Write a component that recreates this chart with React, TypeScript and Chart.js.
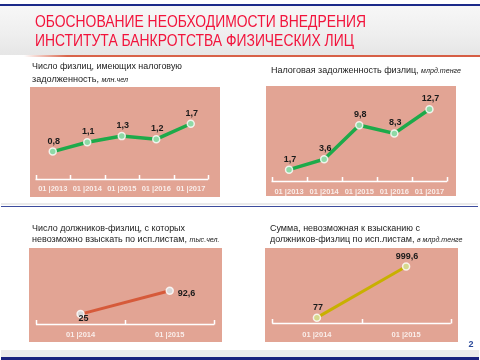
import React, { useEffect, useRef } from 'react';
import { Chart, registerables } from 'chart.js';

Chart.register(...registerables);

// ---------- data ----------
const years5 = ['01 |2013', '01 |2014', '01 |2015', '01 |2016', '01 |2017'];
const years2 = ['01 |2014', '01 |2015'];
const debtorsWithTaxDebt = [0.8, 1.1, 1.3, 1.2, 1.7]; // млн.чел
const taxDebtAmount = [1.7, 3.6, 9.8, 8.3, 12.7]; // млрд.тенге
const uncollectibleDebtors = [25, 92.6]; // тыс.чел.
const uncollectibleSum = [77, 999.6]; // млрд.тенге

const PANEL_BG = '#E2A494';
const FONT = '"Liberation Sans", Arial, sans-serif';
const EXTRA = 10; // canvas extends below the panel background

type LabelMode = 'above' | 'right';

const fmt = (v: number) => String(v).replace('.', ',');

const axisPlugin = {
  id: 'axisTicks',
  beforeDatasetsDraw(chart: any) {
    const s = chart.scales.x;
    const ctx = chart.ctx;
    const n = chart.data.labels.length;
    const y = Math.round(s.top) + 0.5;
    ctx.save();
    ctx.strokeStyle = '#FFFFFF';
    ctx.lineWidth = 1.5;
    ctx.beginPath();
    ctx.moveTo(s.left, y);
    ctx.lineTo(s.right, y);
    for (let i = 0; i <= n; i++) {
      const x = Math.round(s.left + ((s.right - s.left) * i) / n) + 0.5;
      ctx.moveTo(x, y);
      ctx.lineTo(x, y - 4.5);
    }
    ctx.stroke();
    ctx.restore();
  },
};

const valueLabelPlugin = {
  id: 'valueLabels',
  afterDatasetsDraw(chart: any, _args: any, opts: any) {
    const ctx = chart.ctx;
    const meta = chart.getDatasetMeta(0);
    const data = chart.data.datasets[0].data as number[];
    ctx.save();
    ctx.fillStyle = '#1A1A1A';
    ctx.font = `bold 9px ${FONT}`;
    meta.data.forEach((pt: any, i: number) => {
      const txt = fmt(data[i]);
      ctx.textBaseline = 'middle';
      if (opts.mode === 'right') {
        ctx.textAlign = 'left';
        if (i === 0) ctx.fillText(txt, pt.x - 2, pt.y + 4);
        else ctx.fillText(txt, pt.x + 8, pt.y + 2.5);
      } else {
        ctx.textAlign = 'center';
        ctx.fillText(txt, pt.x + 1, pt.y - 10.5);
      }
    });
    ctx.restore();
  },
};

interface LineProps {
  left: number;
  top: number;
  width: number;
  height: number;
  labels: string[];
  values: number[];
  color: string;
  pointFill: string;
  lineWidth: number;
  yMin: number;
  yMax: number;
  pad: { left: number; right: number; top: number; bottom: number };
  tickPad: number;
  mode: LabelMode;
}

function LineBox(p: LineProps) {
  const ref = useRef<HTMLCanvasElement>(null);
  useEffect(() => {
    if (!ref.current) return;
    const chart = new Chart(ref.current, {
      type: 'line',
      data: {
        labels: p.labels,
        datasets: [
          {
            data: p.values,
            borderColor: p.color,
            borderWidth: p.lineWidth,
            pointRadius: 3.5,
            pointBorderWidth: 1.5,
            pointBorderColor: 'rgba(255,255,255,0.8)',
            pointBackgroundColor: p.pointFill,
            tension: 0,
          },
        ],
      },
      options: {
        responsive: false,
        devicePixelRatio: 1,
        animation: false,
        layout: { padding: { ...p.pad, bottom: p.pad.bottom + EXTRA } },
        plugins: {
          legend: { display: false },
          tooltip: { enabled: false },
          valueLabels: { mode: p.mode },
        } as any,
        scales: {
          x: {
            offset: true,
            grid: { display: false, drawTicks: false },
            border: { display: false },
            ticks: {
              color: 'rgba(255,255,255,0.8)',
              font: { family: FONT, size: 7.5, weight: 'bold' },
              padding: p.tickPad,
              maxRotation: 0,
              autoSkip: false,
            },
          },
          y: { display: false, min: p.yMin, max: p.yMax },
        },
      },
      plugins: [axisPlugin, valueLabelPlugin],
    });
    return () => chart.destroy();
  }, []);
  return (
    <>
      <div
        style={{
          position: 'absolute',
          left: p.left,
          top: p.top,
          width: p.width,
          height: p.height,
          background: PANEL_BG,
        }}
      />
      <canvas
        ref={ref}
        width={p.width}
        height={p.height + EXTRA}
        style={{ position: 'absolute', left: p.left, top: p.top, display: 'block' }}
      />
    </>
  );
}

const unit = { fontStyle: 'italic', fontSize: 7.5 } as const;

function Texts() {
  return (
    <svg
      width={480}
      height={360}
      style={{ position: 'absolute', left: 0, top: 0, pointerEvents: 'none' }}
      fontFamily={FONT}
    >
      <g fill="#F2143C" fontSize={17}>
        <text x={35} y={26.8} textLength={331} lengthAdjust="spacingAndGlyphs">
          ОБОСНОВАНИЕ НЕОБХОДИМОСТИ ВНЕДРЕНИЯ
        </text>
        <text x={35} y={46.2} textLength={319} lengthAdjust="spacingAndGlyphs">
          ИНСТИТУТА БАНКРОТСТВА ФИЗИЧЕСКИХ ЛИЦ
        </text>
      </g>
      <g fill="#1A1A1A" fontSize={9.5}>
        <text x={32} y={68.5} textLength={150} lengthAdjust="spacingAndGlyphs">
          Число физлиц, имеющих налоговую
        </text>
        <text x={32} y={81.7} textLength={96} lengthAdjust="spacingAndGlyphs">
          задолженность, <tspan style={unit}>млн.чел</tspan>
        </text>
        <text x={271} y={73.3} textLength={190} lengthAdjust="spacingAndGlyphs">
          Налоговая задолженность физлиц, <tspan style={unit}>млрд.тенге</tspan>
        </text>
        <text x={32} y={230.7} textLength={153} lengthAdjust="spacingAndGlyphs">
          Число должников-физлиц, с которых
        </text>
        <text x={32} y={242.3} textLength={187.5} lengthAdjust="spacingAndGlyphs">
          невозможно взыскать по исп.листам, <tspan style={unit}>тыс.чел.</tspan>
        </text>
        <text x={270} y={230.7} textLength={150} lengthAdjust="spacingAndGlyphs">
          Сумма, невозможная к взысканию с
        </text>
        <text x={270} y={241.8} textLength={192.5} lengthAdjust="spacingAndGlyphs">
          должников-физлиц по исп.листам, <tspan style={unit}>в млрд.тенге</tspan>
        </text>
      </g>
      <text x={468.5} y={346.5} fill="#2B4A9A" fontSize={9} fontWeight="bold">
        2
      </text>
    </svg>
  );
}

export default function App() {
  useEffect(() => {
    document.body.style.margin = '0';
  }, []);
  return (
    <div
      style={{
        position: 'fixed',
        left: 0,
        top: 0,
        width: 480,
        height: 360,
        background: '#FFFFFF',
        overflow: 'hidden',
      }}
    >
      {/* header */}
      <div style={{ position: 'absolute', left: 0, top: 3.5, width: 480, height: 2, background: '#1B2A8A' }} />
      <div
        style={{
          position: 'absolute',
          left: 0,
          top: 5.5,
          width: 480,
          height: 49.5,
          background: 'linear-gradient(180deg, #F7F7F7 0%, #EEEEEE 60%, #E6E6E6 100%)',
        }}
      />
      <div
        style={{
          position: 'absolute',
          left: 0,
          top: 55,
          width: 480,
          height: 2.2,
          background: 'linear-gradient(90deg, rgba(217,96,72,0) 5%, #D9644A 14%, #D65E45 100%)',
        }}
      />

      {/* separators */}
      <div style={{ position: 'absolute', left: 1, top: 202.7, width: 477, height: 2.5, background: '#EAEAEA' }} />
      <div style={{ position: 'absolute', left: 1, top: 205.5, width: 477, height: 1.8, background: '#3D4C9E' }} />
      <div style={{ position: 'absolute', left: 1, top: 350, width: 478, height: 7, background: '#EBEBEB' }} />
      <div style={{ position: 'absolute', left: 1, top: 357, width: 478, height: 2.5, background: '#1A237E' }} />

      {/* charts */}
      <LineBox
        left={30}
        top={87}
        width={190}
        height={110}
        labels={years5}
        values={debtorsWithTaxDebt}
        color="#1DAA4A"
        pointFill="#8FD9A6"
        lineWidth={3.5}
        yMin={-0.07}
        yMax={2.5}
        pad={{ left: 2, right: 12, top: 12, bottom: -1.5 }}
        tickPad={5.5}
        mode="above"
      />
      <LineBox
        left={266}
        top={86}
        width={190}
        height={110}
        labels={years5}
        values={taxDebtAmount}
        color="#1DAA4A"
        pointFill="#8FD9A6"
        lineWidth={3.5}
        yMin={-0.28}
        yMax={15.12}
        pad={{ left: 4, right: 9, top: 10, bottom: -6.5 }}
        tickPad={6.5}
        mode="above"
      />
      <LineBox
        left={29}
        top={248}
        width={193}
        height={94}
        labels={years2}
        values={uncollectibleDebtors}
        color="#D65A3A"
        pointFill="#D9D9D9"
        lineWidth={3}
        yMin={-4.4}
        yMax={200}
        pad={{ left: 7, right: 7.7, top: 5, bottom: -3.3 }}
        tickPad={6}
        mode="right"
      />
      <LineBox
        left={265}
        top={248}
        width={193}
        height={94}
        labels={years2}
        values={uncollectibleSum}
        color="#C8B000"
        pointFill="#D6D88E"
        lineWidth={3}
        yMin={-25}
        yMax={1235}
        pad={{ left: 7.3, right: 7.3, top: 5, bottom: -4.3 }}
        tickPad={7}
        mode="above"
      />

      <Texts />
    </div>
  );
}
